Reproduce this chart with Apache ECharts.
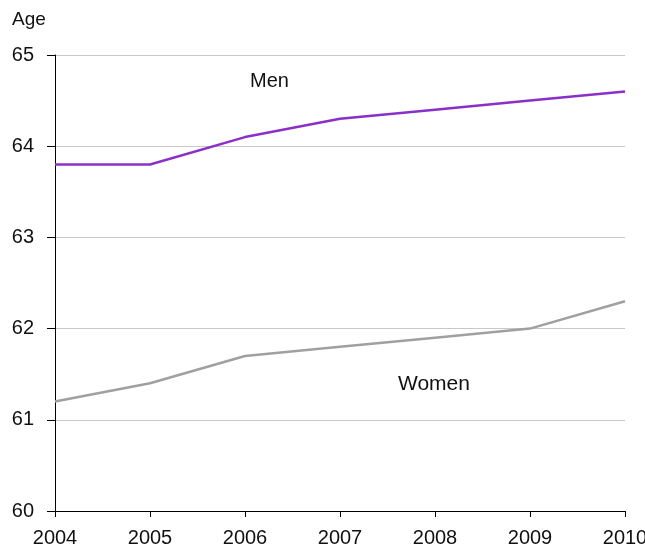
<!DOCTYPE html>
<html>
<head>
<meta charset="utf-8">
<script src="https://cdn.jsdelivr.net/npm/echarts@6/dist/echarts.min.js"></script>
<style>html,body{margin:0;padding:0;background:#fff}#c{width:645px;height:549px}</style>
</head>
<body>
<div id="c"></div>
<script>
const years = ['2004','2005','2006','2007','2008','2009','2010'];
const men = [63.8, 63.8, 64.1, 64.3, 64.4, 64.5, 64.6];
const women = [61.2, 61.4, 61.7, 61.8, 61.9, 62.0, 62.3];
const yTicks = {min: 60, max: 65, interval: 1};

const font = 'Liberation Sans, Arial, sans-serif';
const chart = echarts.init(document.getElementById('c'), null, {renderer: 'canvas'});
chart.setOption({
  animation: false,
  backgroundColor: '#fff',
  grid: {left: 55, right: 20, top: 55, bottom: 38, containLabel: false, outerBoundsMode: 'none'},
  xAxis: {
    type: 'category', data: years, boundaryGap: false,
    axisLine: {lineStyle: {color: '#000', width: 1}},
    axisTick: {show: true, length: 6, lineStyle: {color: '#000'}},
    axisLabel: {color: '#111', fontSize: 20, fontFamily: font, margin: 17}
  },
  yAxis: {
    type: 'value', min: yTicks.min, max: yTicks.max, interval: yTicks.interval,
    axisLine: {show: true, lineStyle: {color: '#000', width: 1}},
    axisTick: {show: true, length: 8, lineStyle: {color: '#000'}},
    axisLabel: {color: '#111', fontSize: 20, fontFamily: font, margin: 21},
    splitLine: {show: true, lineStyle: {color: '#c8c8c8', width: 1}}
  },
  graphic: [
    {type: 'text', left: 12, top: 10, style: {text: 'Age', fill: '#111', font: '19px ' + font}},
    {type: 'text', left: 250, top: 71, style: {text: 'Men', fill: '#111', font: '20px ' + font}},
    {type: 'text', left: 398, top: 374, style: {text: 'Women', fill: '#111', font: '21px ' + font}}
  ],
  series: [
    {name: 'Men', type: 'line', data: men, symbol: 'none', lineStyle: {color: '#8b2fc9', width: 2.5}},
    {name: 'Women', type: 'line', data: women, symbol: 'none', lineStyle: {color: '#a0a0a0', width: 2.5}}
  ]
});
</script>
</body>
</html>
